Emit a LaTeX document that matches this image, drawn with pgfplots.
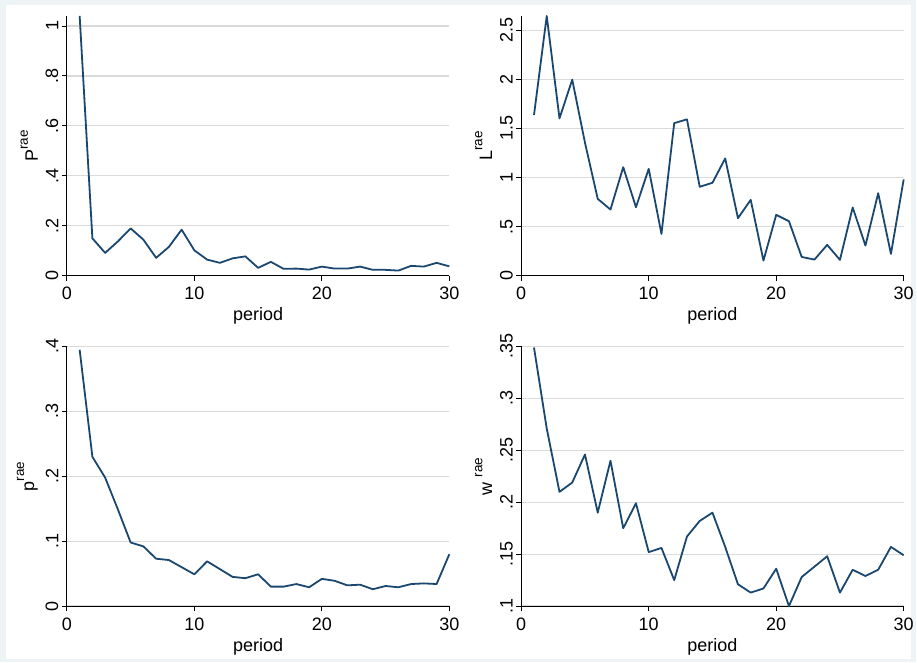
\documentclass[border=0pt]{standalone}
\usepackage{fontspec}
\setmainfont{Liberation Sans}
\usepackage{pgfplots}
\pgfplotsset{compat=1.18}

\definecolor{statanavy}{RGB}{26,71,111}
\definecolor{gridgray}{RGB}{218,218,218}
\definecolor{framebg}{RGB}{238,244,246}

\newcommand{\rae}{\raisebox{0.55em}{\fontsize{13.5}{14}\selectfont rae}}

\pgfplotsset{
  stata/.style={
    scale only axis, width=383pt, height=260pt,
    xmin=0, xmax=30, xtick={0,10,20,30},
    axis x line*=bottom, axis y line*=left,
    axis line style={line width=1pt, -},
    tick align=outside, major tick length=5pt,
    tick style={line width=0.9pt, black},
    ymajorgrids, grid style={gridgray, line width=1.3pt},
    xlabel={period},
    /pgf/number format/assume math mode=true,
    tick label style={font=\fontsize{18}{20}\selectfont},
    label style={font=\fontsize{18}{20}\selectfont},
    yticklabel style={rotate=90, anchor=south},
    xticklabel style={yshift=-3pt},
    xlabel style={yshift=-1pt},
    ylabel style={yshift=1pt},
    clip=false,
  },
  navyline/.style={statanavy, line width=1.8pt, line join=round, mark=none},
}

\begin{document}
\begin{tikzpicture}[x=1pt,y=1pt]
\fill[framebg] (0,0) rectangle (917,663);
\fill[white] (6,3) rectangle (912,658);

% top left: P
\begin{axis}[stata, at={(67pt,387pt)}, anchor=south west,
  ymin=0, ymax=1.04, ytick={0,0.2,0.4,0.6,0.8,1},
  yticklabels={0,.2,.4,.6,.8,1},
  ylabel={P\rae}]
\addplot[navyline] coordinates {
(1,1.040) (2,0.149) (3,0.091) (4,0.137) (5,0.189) (6,0.144) (7,0.071) (8,0.115)
(9,0.184) (10,0.101) (11,0.064) (12,0.051) (13,0.069) (14,0.077) (15,0.031)
(16,0.055) (17,0.027) (18,0.028) (19,0.024) (20,0.036) (21,0.028) (22,0.028)
(23,0.036) (24,0.023) (25,0.023) (26,0.020) (27,0.039) (28,0.036) (29,0.051) (30,0.037)
};
\end{axis}

% top right: L
\begin{axis}[stata, at={(522pt,387pt)}, anchor=south west,
  ymin=0, ymax=2.646, ytick={0,0.5,1,1.5,2,2.5},
  yticklabels={0,.5,1,1.5,2,2.5},
  ylabel={L\rae}]
\addplot[navyline] coordinates {
(1,1.636) (2,2.646) (3,1.602) (4,1.997) (5,1.354) (6,0.782) (7,0.673) (8,1.105)
(9,0.697) (10,1.088) (11,0.425) (12,1.554) (13,1.592) (14,0.905) (15,0.946)
(16,1.194) (17,0.585) (18,0.772) (19,0.153) (20,0.619) (21,0.554) (22,0.190)
(23,0.163) (24,0.313) (25,0.160) (26,0.694) (27,0.306) (28,0.840) (29,0.221) (30,0.980)
};
\end{axis}

% bottom left: p
\begin{axis}[stata, at={(67pt,56pt)}, anchor=south west,
  ymin=0, ymax=0.4, ytick={0,0.1,0.2,0.3,0.4},
  yticklabels={0,.1,.2,.3,.4},
  ylabel={p\rae}]
\addplot[navyline] coordinates {
(1,0.395) (2,0.230) (3,0.198) (4,0.149) (5,0.098) (6,0.092) (7,0.073) (8,0.071)
(9,0.060) (10,0.049) (11,0.069) (12,0.057) (13,0.045) (14,0.043) (15,0.049)
(16,0.030) (17,0.030) (18,0.034) (19,0.029) (20,0.042) (21,0.039) (22,0.032)
(23,0.033) (24,0.026) (25,0.031) (26,0.029) (27,0.034) (28,0.035) (29,0.034) (30,0.080)
};
\end{axis}

% bottom right: w
\begin{axis}[stata, at={(522pt,56pt)}, anchor=south west,
  ymin=0.1, ymax=0.35, ytick={0.1,0.15,0.2,0.25,0.3,0.35},
  yticklabels={.1,.15,.2,.25,.3,.35},
  ylabel={w \rae}]
\addplot[navyline] coordinates {
(1,0.349) (2,0.271) (3,0.210) (4,0.219) (5,0.246) (6,0.190) (7,0.240) (8,0.175)
(9,0.199) (10,0.152) (11,0.156) (12,0.125) (13,0.167) (14,0.182) (15,0.190)
(16,0.157) (17,0.121) (18,0.113) (19,0.117) (20,0.136) (21,0.100) (22,0.128)
(23,0.138) (24,0.148) (25,0.113) (26,0.135) (27,0.129) (28,0.135) (29,0.157) (30,0.149)
};
\end{axis}
\end{tikzpicture}
\end{document}
